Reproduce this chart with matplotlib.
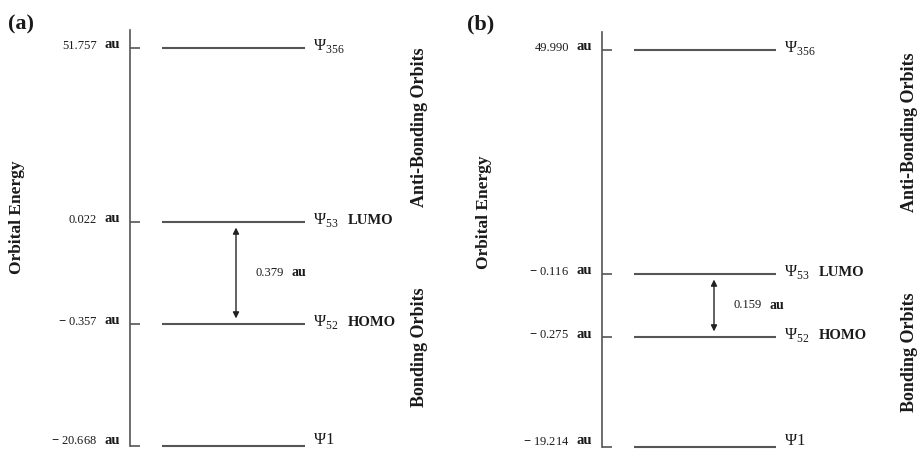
import matplotlib
matplotlib.use("Agg")
import matplotlib.pyplot as plt

plt.rcParams['font.family'] = ['Liberation Serif', 'DejaVu Serif']
plt.rcParams['mathtext.fontset'] = 'custom'
plt.rcParams['mathtext.rm'] = 'Liberation Serif'
plt.rcParams['mathtext.bf'] = 'Liberation Serif:bold'

# orbitals shown in both diagrams
orbitals = ["356", "53", "52", "1"]
frontier = ["", "LUMO", "HOMO", ""]

# orbital energies (au)
energy_a = [51.757, 0.022, -0.357, -20.668]
energy_b = [49.990, -0.116, -0.275, -19.214]
gap_a = 0.379
gap_b = 0.159

# schematic level heights (the diagram is not drawn to scale)
height_a = [398, 224, 122, 0]
height_b = [397, 173, 110, 0]

line_col = '#555555'
txt_col = '#1a1a1a'


def draw_panel(ax, energies, heights, gap, top, line_x, arrow_x):
    ax.set_xlim(0, 300)
    ax.set_ylim(0, top)
    for s in ['top', 'right', 'bottom']:
        ax.spines[s].set_visible(False)
    ax.spines['left'].set_color(line_col)
    ax.spines['left'].set_linewidth(1.2)
    ax.set_xticks([])
    ax.set_yticks(heights)
    ax.tick_params(axis='y', direction='in', length=7, width=1.2,
                   color=line_col, labelleft=False)
    ax.patch.set_visible(False)

    ax.hlines(heights, line_x[0], line_x[1], color=line_col, lw=1.5, clip_on=False)

    ytr = ax.get_yaxis_transform()
    for e, h, orb, tag in zip(energies, heights, orbitals, frontier):
        # keep the lowest labels inside the figure
        dy = 5 if h == 0 else 2
        num = f"{abs(e):.3f}"
        if e < 0:
            num = r"$\mathbf{-}$ " + num
        ax.annotate(num, (0, h), xycoords=ytr, xytext=(-33, dy),
                    textcoords='offset pixels', ha='right', va='center',
                    fontsize=9, color=txt_col)
        ax.annotate("au", (0, h), xycoords=ytr, xytext=(-10, dy + 1),
                    textcoords='offset pixels', ha='right', va='center',
                    fontsize=10.5, weight='bold', color=txt_col)
        if len(orb) > 1:
            psi = r"$\mathrm{\Psi}_{%s}$" % orb
            psi_dy = -2
        else:
            psi = r"$\mathrm{\Psi}$" + orb
            psi_dy = 2
        ax.annotate(psi, (line_x[1], h), xytext=(8, psi_dy),
                    textcoords='offset pixels', ha='left', va='baseline',
                    fontsize=12, color=txt_col, annotation_clip=False)
        if tag:
            ax.annotate(tag, (line_x[1], h), xytext=(43, -2),
                        textcoords='offset pixels', ha='left', va='baseline',
                        fontsize=10.5, weight='bold', color=txt_col,
                        annotation_clip=False)

    # HOMO-LUMO gap
    ax.annotate("", xy=(arrow_x, heights[2]), xytext=(arrow_x, heights[1]),
                arrowprops=dict(arrowstyle='<|-|>', color='#222222', lw=1,
                                shrinkA=4, shrinkB=4, mutation_scale=9))
    mid = (heights[1] + heights[2]) / 2
    ax.annotate(f"{gap:.3f}", (arrow_x, mid), xytext=(20, 0),
                textcoords='offset pixels', ha='left', va='center',
                fontsize=9, color=txt_col)
    ax.annotate("au", (arrow_x, mid), xytext=(55, 0),
                textcoords='offset pixels', ha='left', va='center',
                fontsize=10, weight='bold', color=txt_col)


fig = plt.figure(figsize=(9.19, 4.49), dpi=100)
W, H = 919, 449

ax_a = fig.add_axes([130 / W, 3 / H, 300 / W, 416 / H])
ax_b = fig.add_axes([602 / W, 2 / H, 300 / W, 415 / H])

draw_panel(ax_a, energy_a, height_a, gap_a, 416, (32, 175), 106)
draw_panel(ax_b, energy_b, height_b, gap_b, 415, (32, 174), 112)

fig.text(8 / W, 1 - 24 / H, "(a)", fontsize=16, weight='bold', va='center', color=txt_col)
fig.text(467 / W, 1 - 24 / H, "(b)", fontsize=16, weight='bold', va='center', color=txt_col)

for x, yc in [(17, 217), (484, 212)]:
    fig.text(x / W, 1 - yc / H, "Orbital Energy", rotation=90, fontsize=12.5,
             weight='bold', ha='center', va='center', color=txt_col)

for x, y1, y2 in [(419, 127, 347), (909, 132, 352)]:
    fig.text(x / W, 1 - y1 / H, "Anti-Bonding Orbits", rotation=90, fontsize=13,
             weight='bold', ha='center', va='center', color=txt_col)
    fig.text(x / W, 1 - y2 / H, "Bonding Orbits", rotation=90, fontsize=13,
             weight='bold', ha='center', va='center', color=txt_col)

fig.savefig("out.png", dpi=100, facecolor='white')
